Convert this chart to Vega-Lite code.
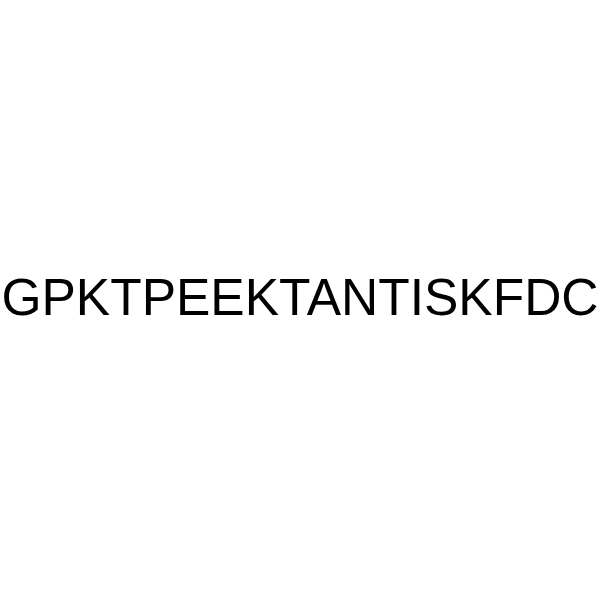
{
  "$schema": "https://vega.github.io/schema/vega-lite/v6.json",
  "width": 600,
  "height": 600,
  "autosize": {"type": "fit", "contains": "padding"},
  "padding": 0,
  "background": "white",
  "config": {"view": {"stroke": null}},
  "data": {"values": [{"label": "GPKTPEEKTANTISKFDC"}]},
  "mark": {
    "type": "text",
    "font": "Liberation Sans",
    "fontSize": 51.5,
    "color": "black",
    "align": "center",
    "baseline": "middle"
  },
  "encoding": {
    "text": {"field": "label", "type": "nominal"}
  }
}
